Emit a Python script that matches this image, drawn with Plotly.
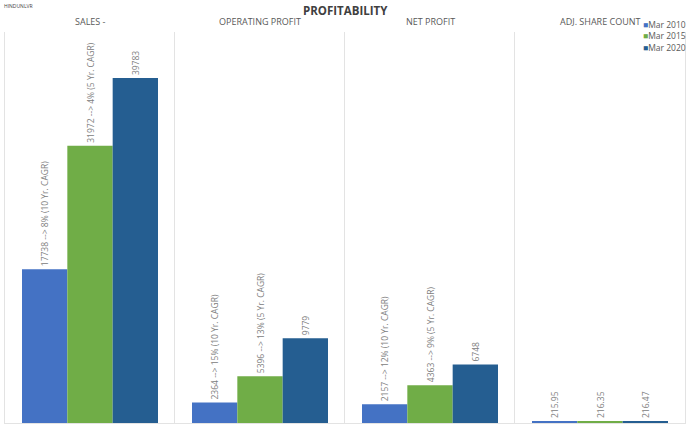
import plotly.graph_objects as go
from plotly.subplots import make_subplots

metrics = ["SALES -", "OPERATING PROFIT", "NET PROFIT", "ADJ. SHARE COUNT"]
years = ["Mar 2010", "Mar 2015", "Mar 2020"]
colors = ["#4472C4", "#70AD47", "#255E91"]

values = {
    "Mar 2010": [17738, 2364, 2157, 215.95],
    "Mar 2015": [31972, 5396, 4363, 216.35],
    "Mar 2020": [39783, 9779, 6748, 216.47],
}
labels = {
    "Mar 2010": ["17738 --> 8% (10 Yr. CAGR)", "2364 --> 15% (10 Yr. CAGR)",
                 "2157 --> 12% (10 Yr. CAGR)", "215.95"],
    "Mar 2015": ["31972 --> 4% (5 Yr. CAGR)", "5396 --> 13% (5 Yr. CAGR)",
                 "4363 --> 9% (5 Yr. CAGR)", "216.35"],
    "Mar 2020": ["39783", "9779", "6748", "216.47"],
}
y_max = 45100

FONT = "Open Sans"
GRAY = "#808080"
LINE = "#e3e3e3"
W, H = 690, 429
ML, MR, MT, MB = 5, 5, 32, 6
PW = W - ML - MR

fig = make_subplots(rows=1, cols=4, shared_yaxes=True, horizontal_spacing=0,
                    subplot_titles=metrics)

for ci, m in enumerate(metrics):
    for yi, yr in enumerate(years):
        fig.add_trace(go.Bar(
            x=[m], y=[values[yr][ci]], name=yr,
            marker=dict(color=colors[yi], line=dict(width=0)),
            text=[labels[yr][ci]], textposition="outside", textangle=-90,
            constraintext="none", cliponaxis=False,
            textfont=dict(family=FONT, size=8.5, color=GRAY),
            showlegend=False, legendgroup=yr,
            hoverinfo="skip",
        ), row=1, col=ci + 1)

fig.update_layout(
    width=W, height=H,
    margin=dict(l=ML, r=MR, t=MT, b=MB, autoexpand=False),
    paper_bgcolor="white", plot_bgcolor="white",
    barmode="group", bargap=0.2, bargroupgap=0,
    font=dict(family=FONT, color=GRAY),
    showlegend=False,
)

for i in range(1, 5):
    fig.update_xaxes(showticklabels=False, showgrid=False, zeroline=False,
                     showline=True, linecolor=LINE, linewidth=1, ticks="",
                     row=1, col=i)
    fig.update_yaxes(range=[0, y_max], showticklabels=False, showgrid=False,
                     zeroline=False, showline=True, linecolor=LINE, linewidth=1,
                     ticks="", mirror=(i == 4), row=1, col=i)

for ann in fig.layout.annotations:
    ann.font = dict(family=FONT, size=9, color="#595959")
    ann.yshift = 2

fig.add_annotation(text="<b>PROFITABILITY</b>", x=0.5, y=1.0, xref="paper", yref="paper",
                   xanchor="center", yanchor="bottom", yshift=12, showarrow=False,
                   font=dict(family=FONT, size=11.5, color="#404040"))
fig.add_annotation(text="HINDUNLVR", x=-3 / PW, y=1.0, xref="paper", yref="paper",
                   xanchor="left", yanchor="bottom", yshift=21, showarrow=False,
                   font=dict(family=FONT, size=5, color="#404040"))

# legend (small square swatches next to the series names)
for yi, yr in enumerate(years):
    fig.add_annotation(
        text=f'<span style="color:{colors[yi]}">■</span>{yr}',
        x=(641 - ML) / PW, y=1.0, xref="paper", yref="paper",
        xanchor="left", yanchor="middle", yshift=MT - 24 - 11.5 * yi,
        showarrow=False, font=dict(family=FONT, size=8.5, color="#595959"))

fig.write_html("out.html", config={"displayModeBar": False},
               post_script="document.body.style.margin='0';")
